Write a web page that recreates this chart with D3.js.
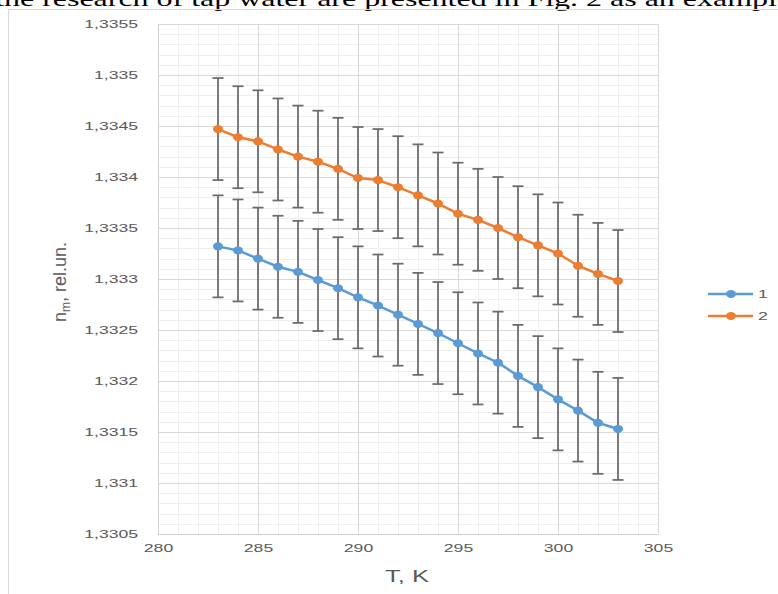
<!DOCTYPE html>
<html>
<head>
<meta charset="utf-8">
<script src="https://cdn.jsdelivr.net/npm/d3@7"></script>
<style>
  html, body { margin: 0; padding: 0; background: #fff; }
  svg { display: block; }
</style>
</head>
<body>
<svg id="chart" width="778" height="594"></svg>
<script>
// ---- data ----
const temperatures = [283, 284, 285, 286, 287, 288, 289, 290, 291, 292, 293, 294, 295, 296, 297, 298, 299, 300, 301, 302, 303];
const series1 = [1.33332, 1.33328, 1.33320, 1.33312, 1.33307, 1.33299, 1.33291, 1.33282, 1.33274, 1.33265, 1.33256,
                 1.33247, 1.33237, 1.33227, 1.33218, 1.33205, 1.33194, 1.33182, 1.33171, 1.33159, 1.33153];
const series2 = [1.33447, 1.33439, 1.33435, 1.33427, 1.33420, 1.33415, 1.33408, 1.33399, 1.33397, 1.33390, 1.33382,
                 1.33374, 1.33364, 1.33358, 1.33350, 1.33341, 1.33333, 1.33325, 1.33313, 1.33305, 1.33298];
const errors1 = [0.0005, 0.0005, 0.0005, 0.0005, 0.0005, 0.0005, 0.0005, 0.0005, 0.0005, 0.0005, 0.0005,
                 0.0005, 0.0005, 0.0005, 0.0005, 0.0005, 0.0005, 0.0005, 0.0005, 0.0005, 0.0005];
const errors2 = [0.0005, 0.0005, 0.0005, 0.0005, 0.0005, 0.0005, 0.0005, 0.0005, 0.0005, 0.0005, 0.0005,
                 0.0005, 0.0005, 0.0005, 0.0005, 0.0005, 0.0005, 0.0005, 0.0005, 0.0005, 0.0005];
const seriesNames = ["1", "2"];
const xTicks = [280, 285, 290, 295, 300, 305];
const yTicks = [1.3305, 1.331, 1.3315, 1.332, 1.3325, 1.333, 1.3335, 1.334, 1.3345, 1.335, 1.3355];
const yTickLabels = ["1,3305", "1,331", "1,3315", "1,332", "1,3325", "1,333", "1,3335", "1,334", "1,3345", "1,335", "1,3355"];
const xTitle = "T, K";
const topSentence = "the research of tap water are presented in Fig. 2 as an example";

// ---- layout ----
const svg = d3.select("#chart");
const L = 158, R = 658, T = 24, B = 534;
const SX = 1.6; // horizontal stretch of text
const colors = ["#5B9BD5", "#ED7D31"];
const textColor = "#595959";

const x = d3.scaleLinear().domain([280, 305]).range([L, R]);
const y = d3.scaleLinear().domain([1.3305, 1.3355]).range([B, T]);

// top sentence (cut off at the top and right edges, as in the reference)
const topLine = svg.append("text")
  .attr("font-family", "Liberation Serif, Times New Roman, serif")
  .attr("font-size", 20)
  .attr("fill", "#000")
  .text(topSentence);
{
  const node = topLine.node();
  const offH = node.getSubStringLength(0, 1);
  const offEnd = node.getSubStringLength(0, topSentence.length - 1);
  const s = (777 - 4) / (offEnd - offH);
  const x0 = 4 - offH * s;
  topLine.attr("transform", `translate(${x0},5.5) scale(${s},1)`);
}

// chart frame
svg.append("rect")
  .attr("x", 8.5).attr("y", 9.5).attr("width", 820).attr("height", 620)
  .attr("fill", "none").attr("stroke", "#d9d9d9").attr("stroke-width", 1);

// minor grid
const minorX = d3.range(280, 305.001, 1);
const minorY = d3.range(0, 51).map(i => 1.3305 + i * 0.0001);
const g = svg.append("g");
g.selectAll(".mx").data(minorX).join("line")
  .attr("x1", d => Math.round(x(d)) + 0.5).attr("x2", d => Math.round(x(d)) + 0.5)
  .attr("y1", T).attr("y2", B)
  .attr("stroke", "#eeeeee").attr("stroke-width", 1);
g.selectAll(".my").data(minorY).join("line")
  .attr("y1", d => Math.round(y(d)) + 0.5).attr("y2", d => Math.round(y(d)) + 0.5)
  .attr("x1", L).attr("x2", R)
  .attr("stroke", "#eeeeee").attr("stroke-width", 1);
// major grid
g.selectAll(".Mx").data(xTicks).join("line")
  .attr("x1", d => Math.round(x(d)) + 0.5).attr("x2", d => Math.round(x(d)) + 0.5)
  .attr("y1", T).attr("y2", B)
  .attr("stroke", "#d9d9d9").attr("stroke-width", 1);
g.selectAll(".My").data(yTicks).join("line")
  .attr("y1", d => Math.round(y(d)) + 0.5).attr("y2", d => Math.round(y(d)) + 0.5)
  .attr("x1", L).attr("x2", R)
  .attr("stroke", "#d9d9d9").attr("stroke-width", 1);

// axes (labels only)
const yAxis = d3.axisLeft(y).tickValues(yTicks).tickSize(0).tickFormat((d, i) => yTickLabels[i]);
const ya = svg.append("g").attr("transform", `translate(${L},0)`).call(yAxis);
ya.select(".domain").attr("stroke", "#d0d0d0");
ya.selectAll("text")
  .attr("x", 0).attr("dy", "0.35em")
  .attr("transform", `translate(-20,0) scale(${SX},1)`)
  .attr("font-family", "Liberation Sans, Arial, sans-serif")
  .attr("font-size", 11).attr("fill", textColor);

const xAxis = d3.axisBottom(x).tickValues(xTicks).tickSize(0).tickFormat(d3.format("d"));
const xa = svg.append("g").attr("transform", `translate(0,${B})`).call(xAxis);
xa.select(".domain").attr("stroke", "#d0d0d0");
xa.selectAll("text")
  .attr("y", 0).attr("dy", "0.35em")
  .attr("transform", `translate(0,14) scale(${SX},1)`)
  .attr("font-family", "Liberation Sans, Arial, sans-serif")
  .attr("font-size", 11).attr("fill", textColor);

// axis titles
svg.append("text")
  .attr("transform", `translate(407,582) scale(${SX},1)`)
  .attr("text-anchor", "middle")
  .attr("font-family", "Liberation Sans, Arial, sans-serif")
  .attr("font-size", 16).attr("fill", textColor)
  .text(xTitle);

const yt = svg.append("text")
  .attr("transform", "translate(66,282) rotate(-90)")
  .attr("text-anchor", "middle")
  .attr("font-family", "Liberation Sans, Arial, sans-serif")
  .attr("font-size", 18).attr("fill", textColor);
yt.append("tspan").text("n");
yt.append("tspan").attr("font-size", 12).attr("dy", 4).text("m");
yt.append("tspan").attr("dy", -4).text(", rel.un.");

// series
const allSeries = [
  { vals: series1, errs: errors1, color: colors[0] },
  { vals: series2, errs: errors2, color: colors[1] }
];
const capW = 5.5;
allSeries.forEach(s => {
  const eg = svg.append("g");
  const pts = temperatures.map((t, i) => ({ t, v: s.vals[i], e: s.errs[i] }));
  eg.selectAll("line.v").data(pts).join("line")
    .attr("x1", d => x(d.t)).attr("x2", d => x(d.t))
    .attr("y1", d => y(d.v + d.e)).attr("y2", d => y(d.v - d.e))
    .attr("stroke", "#6b6b6b").attr("stroke-width", 1.75);
  eg.selectAll("line.top").data(pts).join("line")
    .attr("x1", d => x(d.t) - capW).attr("x2", d => x(d.t) + capW)
    .attr("y1", d => y(d.v + d.e)).attr("y2", d => y(d.v + d.e))
    .attr("stroke", "#6b6b6b").attr("stroke-width", 1.75);
  eg.selectAll("line.bot").data(pts).join("line")
    .attr("x1", d => x(d.t) - capW).attr("x2", d => x(d.t) + capW)
    .attr("y1", d => y(d.v - d.e)).attr("y2", d => y(d.v - d.e))
    .attr("stroke", "#6b6b6b").attr("stroke-width", 1.75);
});
allSeries.forEach(s => {
  const pts = temperatures.map((t, i) => ({ t, v: s.vals[i] }));
  svg.append("path").datum(pts)
    .attr("fill", "none").attr("stroke", s.color).attr("stroke-width", 2.5)
    .attr("stroke-linejoin", "round")
    .attr("d", d3.line().x(d => x(d.t)).y(d => y(d.v)));
  svg.append("g").selectAll("ellipse").data(pts).join("ellipse")
    .attr("cx", d => x(d.t)).attr("cy", d => y(d.v))
    .attr("rx", 5).attr("ry", 4)
    .attr("fill", s.color);
});

// legend
seriesNames.forEach((name, i) => {
  const ly = 294 + i * 22;
  svg.append("line").attr("x1", 708).attr("x2", 753).attr("y1", ly).attr("y2", ly)
    .attr("stroke", colors[i]).attr("stroke-width", 2.5);
  svg.append("ellipse").attr("cx", 731).attr("cy", ly).attr("rx", 5).attr("ry", 4).attr("fill", colors[i]);
  svg.append("text")
    .attr("transform", `translate(758,${ly}) scale(${SX},1)`)
    .attr("dy", "0.35em")
    .attr("font-family", "Liberation Sans, Arial, sans-serif")
    .attr("font-size", 11).attr("fill", textColor)
    .text(name);
});
</script>
</body>
</html>
